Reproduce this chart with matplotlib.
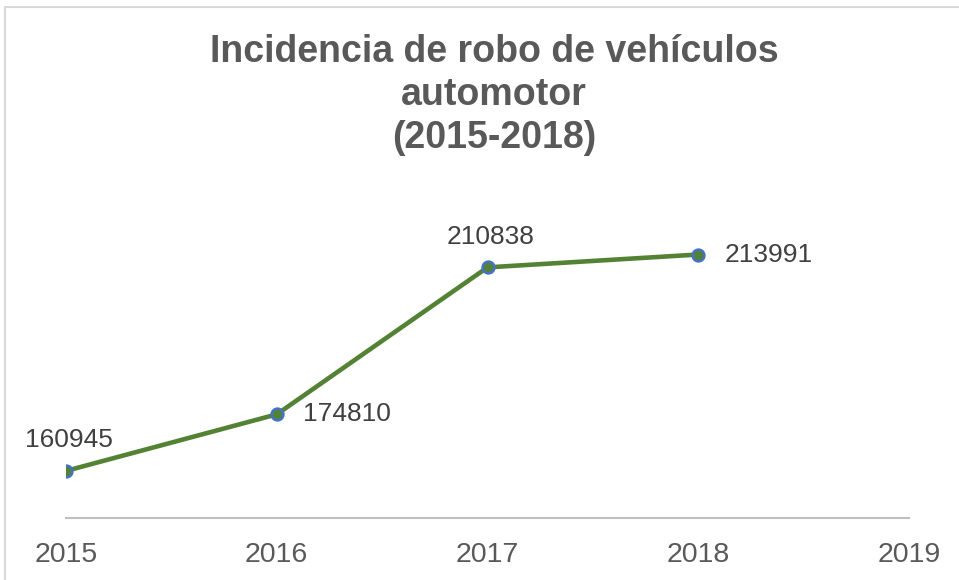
import matplotlib
matplotlib.use("Agg")
import matplotlib.pyplot as plt
from matplotlib.patches import Rectangle

plt.rcParams['font.family'] = ['Liberation Sans', 'DejaVu Sans']

years = ['2015', '2016', '2017', '2018', '2019']
robos = [160945, 174810, 210838, 213991]
label_side = ['above', 'right', 'above', 'right']

fig = plt.figure(figsize=(9.59, 5.8), dpi=100)

# chart area border (cut off at right and bottom like the screenshot)
fig.patches.append(Rectangle((5 / 959, -0.1), 2.0, 1 - 7 / 580 + 0.1, transform=fig.transFigure,
                             fill=False, edgecolor='#d9d9d9', linewidth=1.5))

ax = fig.add_axes([66 / 959, 1 - 518 / 580, (909 - 66) / 959, (518 - 230) / 580])
x = list(range(len(robos)))
ax.plot(x, robos, color='#548235', linewidth=3.3, marker='o', markersize=8.5,
        markerfacecolor='#548235', markeredgecolor='#4472c4', markeredgewidth=1.8,
        solid_capstyle='round', zorder=3)

for xi, val, side in zip(x, robos, label_side):
    if side == 'above':
        ax.annotate(str(val), (xi, val), xytext=(2, 22), textcoords='offset points',
                    ha='center', va='center', fontsize=19, color='#404040', annotation_clip=False)
    else:
        ax.annotate(str(val), (xi, val), xytext=(19, 0), textcoords='offset points',
                    ha='left', va='center', fontsize=19, color='#404040', annotation_clip=False)

ax.set_xlim(0, len(years) - 1)
ax.set_ylim(149400, 220000)
ax.set_xticks(range(len(years)))
ax.set_xticklabels(years, fontsize=20.5, color='#595959')
ax.tick_params(axis='x', length=0, pad=17)
ax.set_yticks([])
for s in ['top', 'right', 'left']:
    ax.spines[s].set_visible(False)
ax.spines['bottom'].set_color('#bfbfbf')
ax.spines['bottom'].set_linewidth(1.5)

fig.text(494 / 959, 1 - 95 / 580, 'Incidencia de robo de vehículos\nautomotor\n(2015-2018)',
         ha='center', va='center', fontsize=27, fontweight='bold', color='#595959',
         linespacing=1.25)

fig.savefig('out.png', dpi=100)
